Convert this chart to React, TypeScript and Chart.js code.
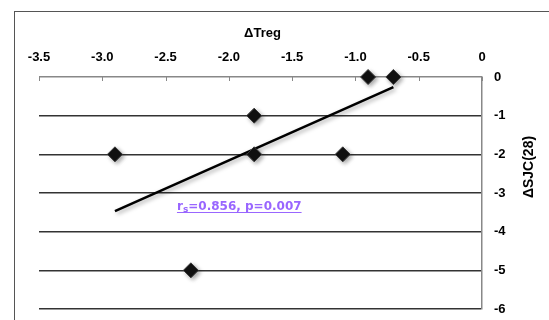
import React, { useEffect, useRef } from "react";
import { Chart, registerables } from "chart.js";

Chart.register(...registerables);

// Data
const deltaTreg = [-0.9, -0.7, -1.8, -2.9, -1.8, -1.1, -2.3];
const deltaSJC = [0, 0, -1, -2, -2, -2, -5];
const trendX = [-2.9, -0.7];
const trendY = [-3.47, -0.26];
const xMin = -3.5;
const xMax = 0;
const xStep = 0.5;
const yMin = -6;
const yMax = 0;
const yStep = 1;
const xTitle = "ΔTreg";
const yTitle = "ΔSJC(28)";
const statR = "r";
const statSub = "s";
const statRest = "=0.856, p=0.007";
const statAt = { x: -2.41, y: -3.44 };

const TICK_FONT = '"Liberation Sans", Arial, sans-serif';

const decorPlugin = {
  id: "decor",
  beforeDatasetsDraw(chart: any) {
    const ctx = chart.ctx;
    const xs = chart.scales.x;
    const top = chart.chartArea.top;
    ctx.save();
    ctx.strokeStyle = "#888";
    ctx.lineWidth = 1;
    xs.ticks.forEach((t: any) => {
      const px = Math.round(xs.getPixelForValue(t.value)) + 0.5;
      ctx.beginPath();
      ctx.moveTo(px, top);
      ctx.lineTo(px, top + 4);
      ctx.stroke();
    });
    ctx.restore();
    ctx.save();
    ctx.shadowColor = "rgba(0,0,0,0.35)";
    ctx.shadowBlur = 4;
    ctx.shadowOffsetX = 2;
    ctx.shadowOffsetY = 2;
  },
  afterDatasetsDraw(chart: any) {
    chart.ctx.restore();
  },
  afterDraw(chart: any) {
    const ctx = chart.ctx;
    const { left, right, top, bottom } = chart.chartArea;
    ctx.save();
    ctx.fillStyle = "#000";
    ctx.font = "bold 13px " + TICK_FONT;
    ctx.textAlign = "center";
    ctx.textBaseline = "middle";
    ctx.fillText(xTitle, (left + right) / 2 + 2, 33);
    ctx.translate(529, (top + bottom) / 2 - 26);
    ctx.rotate(-Math.PI / 2);
    ctx.font = "bold 14px " + TICK_FONT;
    ctx.fillText(yTitle, 0, 0);
    ctx.restore();

    // statistic annotation
    const xs = chart.scales.x;
    const ys = chart.scales.y;
    const ax = xs.getPixelForValue(statAt.x);
    const ay = ys.getPixelForValue(statAt.y);
    ctx.save();
    ctx.fillStyle = "#9966ff";
    ctx.strokeStyle = "#9966ff";
    ctx.textBaseline = "alphabetic";
    ctx.textAlign = "left";
    const mainFont = 'bold 12px "DejaVu Sans", Verdana, sans-serif';
    const subFont = 'bold 9px "DejaVu Sans", Verdana, sans-serif';
    let cx = ax;
    ctx.font = mainFont;
    ctx.fillText(statR, cx, ay);
    cx += ctx.measureText(statR).width;
    ctx.font = subFont;
    ctx.fillText(statSub, cx, ay + 2);
    cx += ctx.measureText(statSub).width;
    ctx.font = mainFont;
    ctx.fillText(statRest, cx, ay);
    cx += ctx.measureText(statRest).width;
    ctx.lineWidth = 1;
    ctx.beginPath();
    ctx.moveTo(ax, Math.round(ay + 2) + 0.5);
    ctx.lineTo(cx, Math.round(ay + 2) + 0.5);
    ctx.stroke();
    ctx.restore();
  },
};

export default function App() {
  const ref = useRef<HTMLCanvasElement | null>(null);

  useEffect(() => {
    if (!ref.current) return;
    const points = deltaTreg.map((x, i) => ({ x, y: deltaSJC[i] }));
    const trend = trendX.map((x, i) => ({ x, y: trendY[i] }));
    const chart = new Chart(ref.current, {
      type: "scatter",
      data: {
        datasets: [
          {
            label: "data",
            data: points,
            pointStyle: "rectRot",
            pointRadius: 7.5,
            pointHoverRadius: 7.5,
            backgroundColor: "#111",
            borderColor: "#3a3a3a",
            borderWidth: 1,
            clip: false as any,
            order: 1,
          },
          {
            label: "trend",
            data: trend,
            showLine: true,
            borderColor: "#000",
            borderWidth: 2.5,
            pointRadius: 0,
            clip: false as any,
            order: 2,
          } as any,
        ],
      },
      options: {
        responsive: false,
        animation: false,
        events: [],
        layout: { padding: { left: 39, top: 0, right: 0, bottom: 11 } },
        plugins: {
          legend: { display: false },
          tooltip: { enabled: false },
        },
        scales: {
          x: {
            type: "linear",
            position: "top",
            min: xMin,
            max: xMax,
            ticks: {
              stepSize: xStep,
              color: "#000",
              font: { family: TICK_FONT, size: 13, weight: "bold" },
              padding: 12,
              maxRotation: 0,
            },
            grid: { display: false, drawTicks: false },
            border: { display: false },
            afterFit: (s: any) => {
              s.height = 77;
              s.paddingLeft = 0;
              s.paddingRight = 0;
            },
          },
          y: {
            type: "linear",
            position: "right",
            min: yMin,
            max: yMax,
            ticks: {
              stepSize: yStep,
              color: "#000",
              font: { family: TICK_FONT, size: 13, weight: "bold" },
              padding: 12,
            },
            grid: {
              drawTicks: false,
              color: (c: any) => (c.tick && c.tick.value === 0 ? "#888" : "#333"),
              lineWidth: 1.5,
            },
            border: { display: true, color: "#888", width: 1.5 },
            afterFit: (s: any) => {
              s.width = 67;
              s.paddingTop = 0;
              s.paddingBottom = 0;
            },
          },
        },
      },
      plugins: [decorPlugin],
    });
    return () => chart.destroy();
  }, []);

  return (
    <div style={{ position: "absolute", left: 0, top: 0, width: 549, height: 320, background: "#fff" }}>
      <div
        style={{
          position: "absolute",
          left: 14,
          top: 11,
          width: 535,
          height: 309,
          borderTop: "1.5px solid #555",
          borderLeft: "1.5px solid #555",
          boxSizing: "border-box",
        }}
      />
      <canvas ref={ref} width={549} height={320} style={{ position: "absolute", left: 0, top: 0 }} />
    </div>
  );
}
